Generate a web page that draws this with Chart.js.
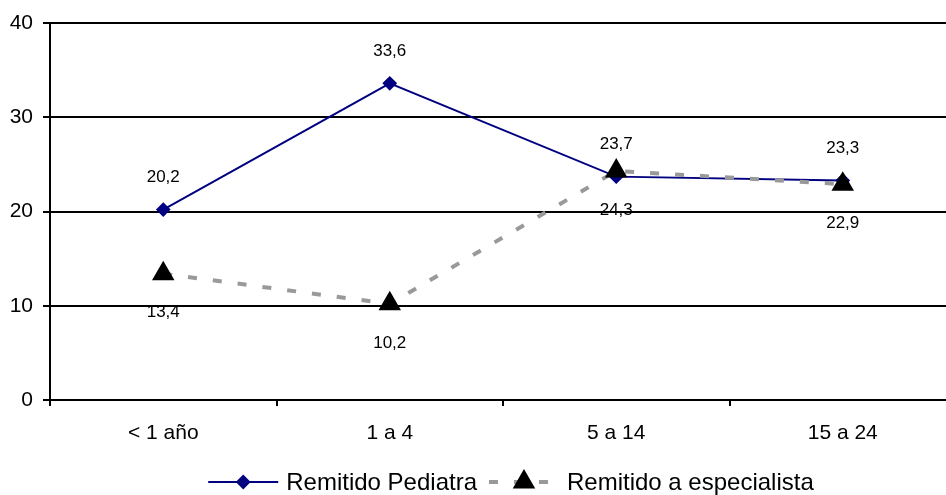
<!DOCTYPE html>
<html>
<head>
<meta charset="utf-8">
<script src="https://cdn.jsdelivr.net/npm/chart.js@4/dist/chart.umd.min.js"></script>
<style>
  html, body { margin: 0; padding: 0; background: #fff; overflow: hidden; }
  #wrap { width: 1022px; height: 495px; position: relative; }
</style>
</head>
<body>
<div id="wrap"><canvas id="chart"></canvas></div>
<script>
const categories = ['< 1 año', '1 a 4', '5 a 14', '15 a 24'];
const pediatra = [20.2, 33.6, 23.7, 23.3];
const especialista = [13.4, 10.2, 24.3, 22.9];
const yTicks = [0, 10, 20, 30, 40];
const seriesNames = ['Remitido Pediatra', 'Remitido a especialista'];

const FONT = "'Liberation Sans', Arial, sans-serif";
const fmt = v => v.toFixed(1).replace('.', ',');

// value labels: pediatra above, especialista below
const valueLabels = {
    id: 'valueLabels',
    afterDatasetsDraw(chart) {
        const ctx = chart.ctx;
        ctx.save();
        ctx.font = '17px ' + FONT;
        ctx.fillStyle = '#000';
        ctx.textAlign = 'center';
        ctx.textBaseline = 'middle';
        chart.data.datasets.forEach((ds, i) => {
            const meta = chart.getDatasetMeta(i);
            const off = i === 0 ? -32 : 39;
            meta.data.forEach((pt, j) => {
                ctx.fillText(fmt(ds.data[j]), pt.x, pt.y + off);
            });
        });
        ctx.restore();
    }
};

// legend with line + marker samples
const lineLegend = {
    id: 'lineLegend',
    afterDraw(chart) {
        const ctx = chart.ctx;
        const sampleW = 70, gap = 8, itemGap = 12;
        const y = 482;
        ctx.save();
        ctx.font = '24px ' + FONT;
        const widths = chart.data.datasets.map(ds => ctx.measureText(ds.label).width);
        const total = widths.reduce((a, w) => a + sampleW + gap + w, 0) + itemGap * (widths.length - 1);
        let x = chart.width / 2 - total / 2;
        chart.data.datasets.forEach((ds, i) => {
            ctx.save();
            ctx.strokeStyle = ds.borderColor;
            ctx.lineWidth = ds.borderWidth;
            ctx.setLineDash(ds.borderDash || []);
            ctx.beginPath();
            ctx.moveTo(x, y);
            ctx.lineTo(x + sampleW, y);
            ctx.stroke();
            ctx.setLineDash([]);
            ctx.fillStyle = ds.pointBackgroundColor;
            ctx.strokeStyle = ds.pointBorderColor;
            Chart.helpers.drawPoint(ctx, {
                pointStyle: ds.pointStyle,
                radius: ds.pointRadius,
                rotation: 0,
                borderWidth: 1
            }, x + sampleW / 2, y);
            ctx.restore();
            ctx.fillStyle = '#000';
            ctx.textBaseline = 'middle';
            ctx.textAlign = 'left';
            ctx.fillText(ds.label, x + sampleW + gap, y + 1);
            x += sampleW + gap + widths[i] + itemGap;
        });
        ctx.restore();
    }
};

new Chart(document.getElementById('chart'), {
    type: 'line',
    data: {
        labels: categories,
        datasets: [{
            label: seriesNames[0],
            data: pediatra,
            borderColor: '#000080',
            borderWidth: 2,
            pointStyle: 'rectRot',
            pointRadius: 6,
            pointBackgroundColor: '#000080',
            pointBorderColor: '#000080',
            tension: 0,
            order: 1
        }, {
            label: seriesNames[1],
            data: especialista,
            borderColor: '#999999',
            borderWidth: 4,
            borderDash: [9, 16],
            pointStyle: 'triangle',
            pointRadius: 9,
            pointBackgroundColor: '#000',
            pointBorderColor: '#000',
            tension: 0,
            order: 0
        }]
    },
    options: {
        responsive: true,
        maintainAspectRatio: false,
        animation: false,
        layout: { padding: { top: 23, right: 66, bottom: 35, left: 0 } },
        plugins: {
            legend: { display: false },
            tooltip: { enabled: false }
        },
        scales: {
            x: {
                offset: true,
                afterFit: s => { s.height = 60; },
                grid: {
                    offset: true,
                    drawOnChartArea: false,
                    color: '#000',
                    lineWidth: 2,
                    tickLength: 6
                },
                border: { color: '#000', width: 2 },
                ticks: {
                    color: '#000',
                    font: { family: FONT, size: 21 },
                    padding: 15,
                    maxRotation: 0
                }
            },
            y: {
                min: yTicks[0],
                max: yTicks[yTicks.length - 1],
                afterFit: s => { s.width = 50; },
                afterBuildTicks: s => { s.ticks = yTicks.map(v => ({ value: v })); },
                grid: {
                    color: '#000',
                    lineWidth: 2,
                    tickLength: 7
                },
                border: { color: '#000', width: 2 },
                ticks: {
                    color: '#000',
                    font: { family: FONT, size: 21 },
                    padding: 10
                }
            }
        }
    },
    plugins: [valueLabels, lineLegend]
});
</script>
</body>
</html>
